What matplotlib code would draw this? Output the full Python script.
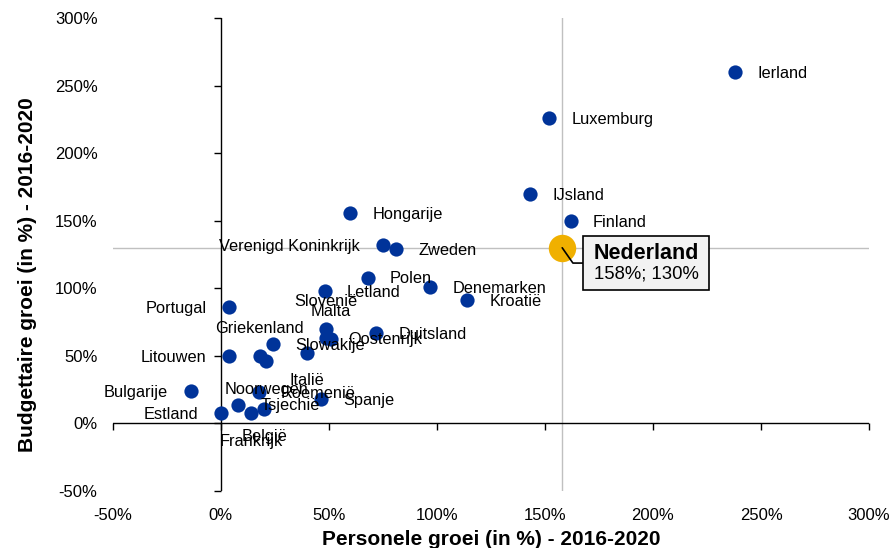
import matplotlib
matplotlib.use('Agg')
import matplotlib.pyplot as plt
from matplotlib.offsetbox import TextArea, VPacker, AnnotationBbox
import numpy as np

plt.rcParams['font.family'] = ['Liberation Sans', 'DejaVu Sans']

#%% data --------------------------------------------------------------------
landen = ['Ierland', 'Luxemburg', 'IJsland', 'Finland', 'Hongarije',
          'Verenigd Koninkrijk', 'Zweden', 'Polen', 'Letland', 'Denemarken',
          'Kroatië', 'Portugal', 'Slovenië', 'Duitsland', 'Oostenrijk',
          'Malta', 'Slowakije', 'Italië', 'Litouwen', 'Griekenland',
          'Noorwegen', 'Bulgarije', 'Roemenië', 'Spanje', 'Tsjechië',
          'België', 'Frankrijk', 'Estland']
personeel = [238, 152, 143, 162, 60, 75, 81, 68, 48, 97,
             114, 4, 48.5, 72, 48.5, 51, 24, 40, 4, 18,
             21, -14, 17.5, 46.5, 8, 20, 14, 0]
budget = [260, 226, 170, 150, 156, 132, 129, 108, 98, 101,
          91, 86, 70, 67, 63, 62.5, 59, 52, 50, 50,
          46, 24, 23, 18, 14, 11, 7.5, 7.5]

nl_naam = 'Nederland'
nl_x = 158
nl_y = 130

ticks = [-50, 0, 50, 100, 150, 200, 250, 300]

# label placement per country: r = right, l = left, a = above, b = below
plaats = ['r', 'r', 'r', 'r', 'r', 'l', 'r', 'r', 'r', 'r',
          'r', 'l', 'a', 'r', 'r', 'a', 'r', 'b', 'l', 'a',
          'b', 'l', 'r', 'r', 'r', 'b', 'b', 'l']

blauw = '#003399'
oranje = '#F0B000'

#%% figure -----------------------------------------------------------------
fig = plt.figure(figsize=(8.95, 5.48), dpi=100)
ax = fig.add_axes([0.126, 0.104, 0.845, 0.863])

ax.set_xlim(-50, 300)
ax.set_ylim(-50, 300)
for s in ax.spines.values():
    s.set_visible(False)

ax.set_xticks(ticks)
ax.set_yticks(ticks)
ax.set_xticklabels([f'{t}%' for t in ticks])
ax.set_yticklabels([f'{t}%' for t in ticks])
ax.tick_params(length=0, labelsize=12, colors='black')
ax.tick_params(axis='x', pad=12)
ax.tick_params(axis='y', pad=11)

# reference lines for Nederland
ax.axvline(nl_x, color='#c0c0c0', lw=1, zorder=1)
ax.axhline(nl_y, color='#c0c0c0', lw=1, zorder=1)

# axes crossing at zero with tick marks
ax.axhline(0, color='black', lw=1, zorder=2)
ax.axvline(0, color='black', lw=1, zorder=2)
ax.plot(ticks, np.zeros(len(ticks)), ls='', marker=3, ms=5, mew=1, color='black', clip_on=False, zorder=2)
ax.plot(np.zeros(len(ticks)), ticks, ls='', marker=0, ms=5, mew=1, color='black', clip_on=False, zorder=2)

ax.scatter(personeel, budget, s=105, color=blauw, zorder=3, linewidths=0)

offsets = {'r': ((16, -1), 'left', 'center'),
           'l': ((-16.5, -1), 'right', 'center'),
           'a': ((0, 19.5), 'center', 'center'),
           'b': ((0, -20), 'center', 'center')}
for naam, x, y, p in zip(landen, personeel, budget, plaats):
    off, ha, va = offsets[p]
    ax.annotate(naam, (x, y), xytext=off, textcoords='offset points',
                ha=ha, va=va, fontsize=11.8, zorder=4)

# Nederland highlighted
ax.scatter([nl_x], [nl_y], s=390, color=oranje, zorder=5, linewidths=0)
kop = TextArea(nl_naam, textprops=dict(fontsize=15.5, fontweight='bold'))
waarde = TextArea(f'{nl_x}%; {nl_y}%', textprops=dict(fontsize=13.3))
pak = VPacker(children=[kop, waarde], align='center', pad=0, sep=1, width=112)
ab = AnnotationBbox(pak, (nl_x, nl_y), xybox=(60.5, -11), boxcoords='offset points',
                    bboxprops=dict(facecolor='#f2f2f2', edgecolor='black', lw=1.2, boxstyle='square,pad=0.5'),
                    arrowprops=dict(arrowstyle='-', color='black', lw=1.2, shrinkA=0, shrinkB=0,
                                    connectionstyle='angle,angleA=0,angleB=-55,rad=0'),
                    zorder=6)
ax.add_artist(ab)

ax.set_xlabel('Personele groei (in %) - 2016-2020', fontsize=15, fontweight='bold', labelpad=5)
ax.set_ylabel('Budgettaire groei (in %) - 2016-2020', fontsize=15, fontweight='bold')
ax.yaxis.set_label_coords(-0.1, 0.457)

plt.savefig('out.png', dpi=100)
